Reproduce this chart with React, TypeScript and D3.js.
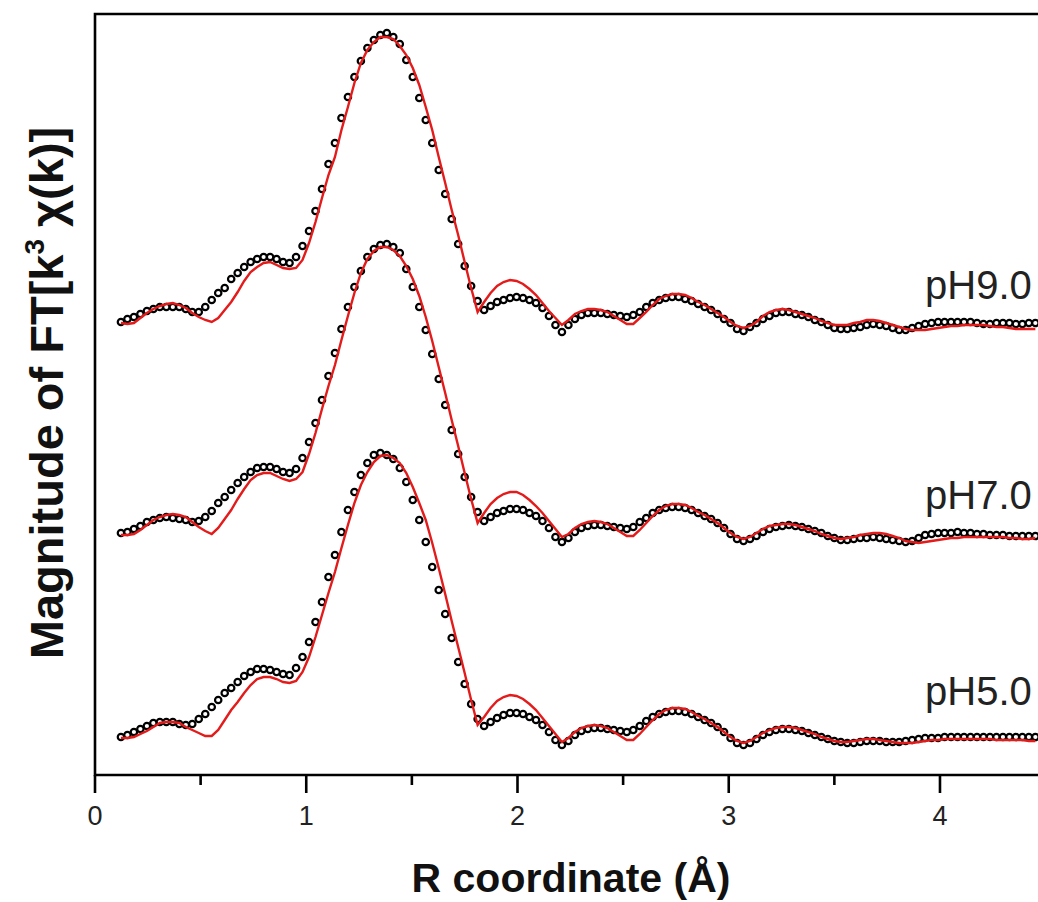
import { useEffect, useRef } from "react";
import * as d3 from "d3";

// FT grid (Å): first point and spacing
const rStart = 0.1228;
const rStep = 0.0307;

const labels = ["pH5.0", "pH7.0", "pH9.0"];
const offsets = [0, 2.05, 4.15]; // vertical stacking offsets

const xTicks = [0, 1, 2, 3, 4];
const xMinorTicks = [0.5, 1.5, 2.5, 3.5];

// |FT[k^3 chi(k)]|, experimental (circles) and fit (red line)
const ph5Exp = [
	0.13, 0.15, 0.18, 0.21, 0.24, 0.27, 0.28, 0.28, 0.28, 0.26,
	0.25, 0.26, 0.31, 0.36, 0.43, 0.50, 0.57, 0.62, 0.68, 0.74,
	0.78, 0.81, 0.81, 0.80, 0.78, 0.76, 0.75, 0.82, 0.93, 1.08,
	1.28, 1.48, 1.73, 1.95, 2.18, 2.40, 2.58, 2.75, 2.87, 2.95,
	2.97, 2.95, 2.91, 2.82, 2.68, 2.50, 2.30, 2.08, 1.83, 1.60,
	1.36, 1.12, 0.88, 0.66, 0.46, 0.31, 0.24, 0.28, 0.32, 0.35,
	0.37, 0.37, 0.36, 0.33, 0.30, 0.25, 0.18, 0.10, 0.05, 0.09,
	0.15, 0.19, 0.21, 0.22, 0.22, 0.21, 0.20, 0.19, 0.18, 0.20,
	0.24, 0.29, 0.33, 0.36, 0.38, 0.39, 0.39, 0.38, 0.36, 0.33,
	0.30, 0.27, 0.23, 0.18, 0.12, 0.07, 0.05, 0.07, 0.11, 0.15,
	0.18, 0.20, 0.21, 0.21, 0.20, 0.19, 0.17, 0.15, 0.13, 0.11,
	0.09, 0.08, 0.07, 0.07, 0.08, 0.09, 0.09, 0.09, 0.08, 0.08,
	0.08, 0.09, 0.10, 0.11, 0.12, 0.12, 0.12, 0.13, 0.13, 0.13,
	0.13, 0.13, 0.13, 0.13, 0.13, 0.13, 0.13, 0.13, 0.13, 0.13,
	0.13, 0.13,
];
const ph5Fit = [
	0.12, 0.12, 0.13, 0.16, 0.19, 0.23, 0.27, 0.28, 0.28, 0.27,
	0.23, 0.20, 0.17, 0.14, 0.14, 0.20, 0.30, 0.40, 0.48, 0.57,
	0.65, 0.71, 0.73, 0.73, 0.71, 0.68, 0.67, 0.69, 0.78, 0.93,
	1.13, 1.35, 1.57, 1.78, 2.02, 2.25, 2.47, 2.65, 2.78, 2.88,
	2.94, 2.95, 2.92, 2.87, 2.77, 2.63, 2.47, 2.30, 2.07, 1.82,
	1.56, 1.29, 1.03, 0.77, 0.50, 0.25, 0.33, 0.42, 0.49, 0.53,
	0.55, 0.54, 0.51, 0.46, 0.40, 0.32, 0.24, 0.16, 0.08, 0.12,
	0.18, 0.22, 0.24, 0.25, 0.24, 0.22, 0.18, 0.14, 0.10, 0.10,
	0.16, 0.23, 0.30, 0.36, 0.40, 0.42, 0.42, 0.41, 0.38, 0.34,
	0.31, 0.27, 0.23, 0.18, 0.13, 0.09, 0.07, 0.09, 0.13, 0.17,
	0.20, 0.22, 0.23, 0.23, 0.22, 0.20, 0.18, 0.16, 0.13, 0.11,
	0.09, 0.08, 0.08, 0.09, 0.10, 0.11, 0.11, 0.10, 0.09, 0.08,
	0.07, 0.07, 0.07, 0.08, 0.09, 0.10, 0.10, 0.11, 0.11, 0.11,
	0.11, 0.11, 0.11, 0.11, 0.11, 0.10, 0.10, 0.10, 0.10, 0.10,
	0.09, 0.09,
];

const ph7Exp = [
	0.12, 0.13, 0.16, 0.19, 0.23, 0.25, 0.27, 0.28, 0.27, 0.26,
	0.25, 0.23, 0.24, 0.28, 0.34, 0.42, 0.48, 0.55, 0.62, 0.68,
	0.73, 0.77, 0.78, 0.78, 0.76, 0.73, 0.72, 0.76, 0.87, 1.03,
	1.22, 1.45, 1.69, 1.92, 2.16, 2.38, 2.58, 2.74, 2.88, 2.96,
	3.00, 3.01, 2.98, 2.92, 2.76, 2.58, 2.38, 2.15, 1.91, 1.66,
	1.40, 1.15, 0.91, 0.68, 0.48, 0.33, 0.24, 0.28, 0.32, 0.34,
	0.36, 0.36, 0.35, 0.32, 0.29, 0.24, 0.17, 0.08, 0.03, 0.07,
	0.13, 0.17, 0.19, 0.20, 0.20, 0.19, 0.18, 0.17, 0.16, 0.18,
	0.23, 0.27, 0.32, 0.35, 0.37, 0.38, 0.38, 0.37, 0.35, 0.32,
	0.29, 0.26, 0.22, 0.17, 0.11, 0.06, 0.04, 0.06, 0.09, 0.13,
	0.16, 0.18, 0.19, 0.20, 0.19, 0.18, 0.16, 0.14, 0.12, 0.09,
	0.07, 0.05, 0.05, 0.06, 0.07, 0.07, 0.08, 0.07, 0.06, 0.05,
	0.04, 0.03, 0.04, 0.07, 0.10, 0.11, 0.12, 0.12, 0.12, 0.13,
	0.12, 0.12, 0.11, 0.11, 0.10, 0.10, 0.10, 0.09, 0.09, 0.09,
	0.09, 0.09,
];
const ph7Fit = [
	0.10, 0.10, 0.11, 0.15, 0.20, 0.25, 0.28, 0.30, 0.31, 0.30,
	0.28, 0.23, 0.18, 0.14, 0.11, 0.17, 0.26, 0.35, 0.46, 0.56,
	0.65, 0.70, 0.72, 0.72, 0.69, 0.66, 0.64, 0.66, 0.73, 0.91,
	1.12, 1.36, 1.59, 1.80, 2.05, 2.29, 2.52, 2.72, 2.86, 2.94,
	2.98, 2.98, 2.95, 2.89, 2.79, 2.66, 2.49, 2.28, 2.04, 1.78,
	1.52, 1.25, 0.99, 0.72, 0.46, 0.22, 0.32, 0.41, 0.47, 0.51,
	0.53, 0.53, 0.50, 0.45, 0.39, 0.32, 0.24, 0.16, 0.08, 0.11,
	0.17, 0.21, 0.23, 0.24, 0.23, 0.21, 0.17, 0.13, 0.09, 0.09,
	0.15, 0.22, 0.29, 0.35, 0.39, 0.41, 0.41, 0.40, 0.37, 0.33,
	0.30, 0.26, 0.22, 0.17, 0.12, 0.08, 0.06, 0.08, 0.12, 0.16,
	0.19, 0.20, 0.21, 0.21, 0.20, 0.18, 0.16, 0.14, 0.11, 0.09,
	0.07, 0.06, 0.07, 0.08, 0.10, 0.11, 0.12, 0.12, 0.11, 0.09,
	0.07, 0.04, 0.03, 0.02, 0.03, 0.04, 0.05, 0.06, 0.07, 0.07,
	0.08, 0.08, 0.08, 0.08, 0.08, 0.08, 0.08, 0.07, 0.07, 0.06,
	0.06, 0.07,
];

const ph9Exp = [
	0.13, 0.16, 0.18, 0.21, 0.24, 0.26, 0.28, 0.28, 0.28, 0.28,
	0.26, 0.23, 0.23, 0.28, 0.35, 0.42, 0.47, 0.56, 0.62, 0.68,
	0.73, 0.76, 0.78, 0.78, 0.76, 0.73, 0.72, 0.78, 0.89, 1.04,
	1.24, 1.46, 1.71, 1.92, 2.17, 2.38, 2.58, 2.74, 2.87, 2.95,
	3.00, 3.02, 2.98, 2.91, 2.75, 2.58, 2.37, 2.15, 1.92, 1.65,
	1.41, 1.16, 0.91, 0.69, 0.49, 0.34, 0.25, 0.29, 0.33, 0.35,
	0.37, 0.38, 0.37, 0.35, 0.32, 0.27, 0.19, 0.10, 0.03, 0.10,
	0.16, 0.20, 0.22, 0.22, 0.22, 0.21, 0.20, 0.19, 0.18, 0.20,
	0.23, 0.28, 0.32, 0.35, 0.37, 0.38, 0.38, 0.36, 0.34, 0.31,
	0.28, 0.25, 0.21, 0.16, 0.12, 0.06, 0.04, 0.08, 0.12, 0.16,
	0.19, 0.22, 0.23, 0.23, 0.21, 0.20, 0.18, 0.15, 0.13, 0.10,
	0.07, 0.06, 0.06, 0.07, 0.08, 0.10, 0.11, 0.10, 0.09, 0.07,
	0.05, 0.05, 0.07, 0.09, 0.11, 0.12, 0.13, 0.13, 0.13, 0.13,
	0.13, 0.13, 0.12, 0.11, 0.11, 0.12, 0.12, 0.12, 0.11, 0.11,
	0.12, 0.12,
];
const ph9Fit = [
	0.12, 0.11, 0.12, 0.17, 0.22, 0.26, 0.29, 0.31, 0.32, 0.30,
	0.27, 0.22, 0.18, 0.15, 0.13, 0.17, 0.25, 0.33, 0.43, 0.54,
	0.63, 0.68, 0.72, 0.73, 0.70, 0.67, 0.66, 0.67, 0.75, 0.92,
	1.13, 1.37, 1.60, 1.78, 2.05, 2.28, 2.52, 2.72, 2.85, 2.93,
	2.98, 2.98, 2.96, 2.89, 2.80, 2.67, 2.50, 2.28, 2.05, 1.78,
	1.52, 1.25, 1.00, 0.73, 0.47, 0.23, 0.33, 0.42, 0.49, 0.53,
	0.55, 0.54, 0.51, 0.46, 0.40, 0.32, 0.24, 0.17, 0.10, 0.15,
	0.21, 0.24, 0.26, 0.26, 0.25, 0.23, 0.19, 0.15, 0.11, 0.11,
	0.17, 0.23, 0.30, 0.36, 0.39, 0.41, 0.41, 0.40, 0.37, 0.33,
	0.30, 0.26, 0.22, 0.18, 0.13, 0.09, 0.07, 0.09, 0.13, 0.19,
	0.23, 0.25, 0.26, 0.25, 0.23, 0.21, 0.19, 0.17, 0.14, 0.12,
	0.10, 0.10, 0.10, 0.12, 0.13, 0.15, 0.15, 0.14, 0.12, 0.10,
	0.08, 0.06, 0.05, 0.05, 0.05, 0.06, 0.07, 0.08, 0.09, 0.09,
	0.10, 0.10, 0.10, 0.10, 0.09, 0.08, 0.08, 0.07, 0.06, 0.06,
	0.06, 0.06,
];

const expData = [ph5Exp, ph7Exp, ph9Exp];
const fitData = [ph5Fit, ph7Fit, ph9Fit];

const W = 1038;
const H = 902;
const FONT = "'Liberation Sans', Arial, Helvetica, sans-serif";
const labelLift = [0.45, 0.36, 0.36]; // label baseline above each offset

const App = () => {
	const svgRef = useRef<SVGSVGElement>(null);

	useEffect(() => {
		const svg = d3.select(svgRef.current);
		svg.selectAll("*").remove();

		const x = d3.scaleLinear().domain([0, 4.464]).range([95, W]);
		const y = d3.scaleLinear().domain([-0.25, 7.36]).range([775, 14]);

		const series = labels.map((label, s) => ({
			label,
			offset: offsets[s],
			exp: expData[s].map((v, i) => ({r: rStart + i * rStep, v: v + offsets[s]})),
			fit: fitData[s].map((v, i) => ({r: rStart + i * rStep, v: v + offsets[s]})),
		}));

		const line = d3
			.line<{r: number; v: number}>()
			.x((d) => x(d.r))
			.y((d) => y(d.v));

		// frame: left + top + bottom
		svg.append("path")
			.attr("d", `M${W},${y.range()[1]}H${x(0)}V${y.range()[0]}H${W}`)
			.attr("fill", "none")
			.attr("stroke", "#000")
			.attr("stroke-width", 2.6);

		// ticks
		svg.append("g")
			.selectAll("line")
			.data(xTicks)
			.join("line")
			.attr("x1", (d) => x(d))
			.attr("x2", (d) => x(d))
			.attr("y1", 775)
			.attr("y2", 793)
			.attr("stroke", "#000")
			.attr("stroke-width", 2.6);

		svg.append("g")
			.selectAll("line")
			.data(xMinorTicks)
			.join("line")
			.attr("x1", (d) => x(d))
			.attr("x2", (d) => x(d))
			.attr("y1", 775)
			.attr("y2", 785)
			.attr("stroke", "#000")
			.attr("stroke-width", 2.6);

		svg.append("g")
			.selectAll("text")
			.data(xTicks)
			.join("text")
			.attr("x", (d) => x(d))
			.attr("y", 825)
			.attr("text-anchor", "middle")
			.attr("fill", "#222")
			.style("font-family", FONT)
			.style("font-size", "27px")
			.text((d) => d);

		// curves
		series.forEach((s, k) => {
			const g = svg.append("g");
			g.selectAll("circle")
				.data(s.exp)
				.join("circle")
				.attr("cx", (d) => x(d.r))
				.attr("cy", (d) => y(d.v))
				.attr("r", 3.2)
				.attr("fill", "#fff")
				.attr("stroke", "#000")
				.attr("stroke-width", 2.2);

			g.append("path")
				.datum(s.fit)
				.attr("d", line)
				.attr("fill", "none")
				.attr("stroke", "#e41b1b")
				.attr("stroke-width", 2.4);

			g.append("text")
				.attr("x", 925)
				.attr("y", y(s.offset + labelLift[k]))
				.attr("fill", "#222")
				.style("font-family", FONT)
				.style("font-size", "40px")
				.text(s.label);
		});

		// axis titles
		svg.append("text")
			.attr("x", 571)
			.attr("y", 892)
			.attr("text-anchor", "middle")
			.attr("fill", "#111")
			.style("font-family", FONT)
			.style("font-size", "41px")
			.style("font-weight", "bold")
			.text("R coordinate (Å)");

		const yt = svg.append("text")
			.attr("transform", "translate(63,393) rotate(-90)")
			.attr("text-anchor", "middle")
			.attr("fill", "#111")
			.style("font-family", FONT)
			.style("font-size", "47px")
			.style("font-weight", "bold");
		yt.append("tspan").text("Magnitude of FT[k");
		yt.append("tspan").attr("dy", -19).style("font-size", "28px").text("3");
		yt.append("tspan").attr("dy", 19).attr("dx", 12).text("χ(k)]");
	}, []);

	return (
		<div style={{position: "absolute", left: 0, top: 0}}>
			<svg ref={svgRef} width={W} height={H} style={{display: "block", background: "#fff"}}></svg>
		</div>
	);
};

export default App;
